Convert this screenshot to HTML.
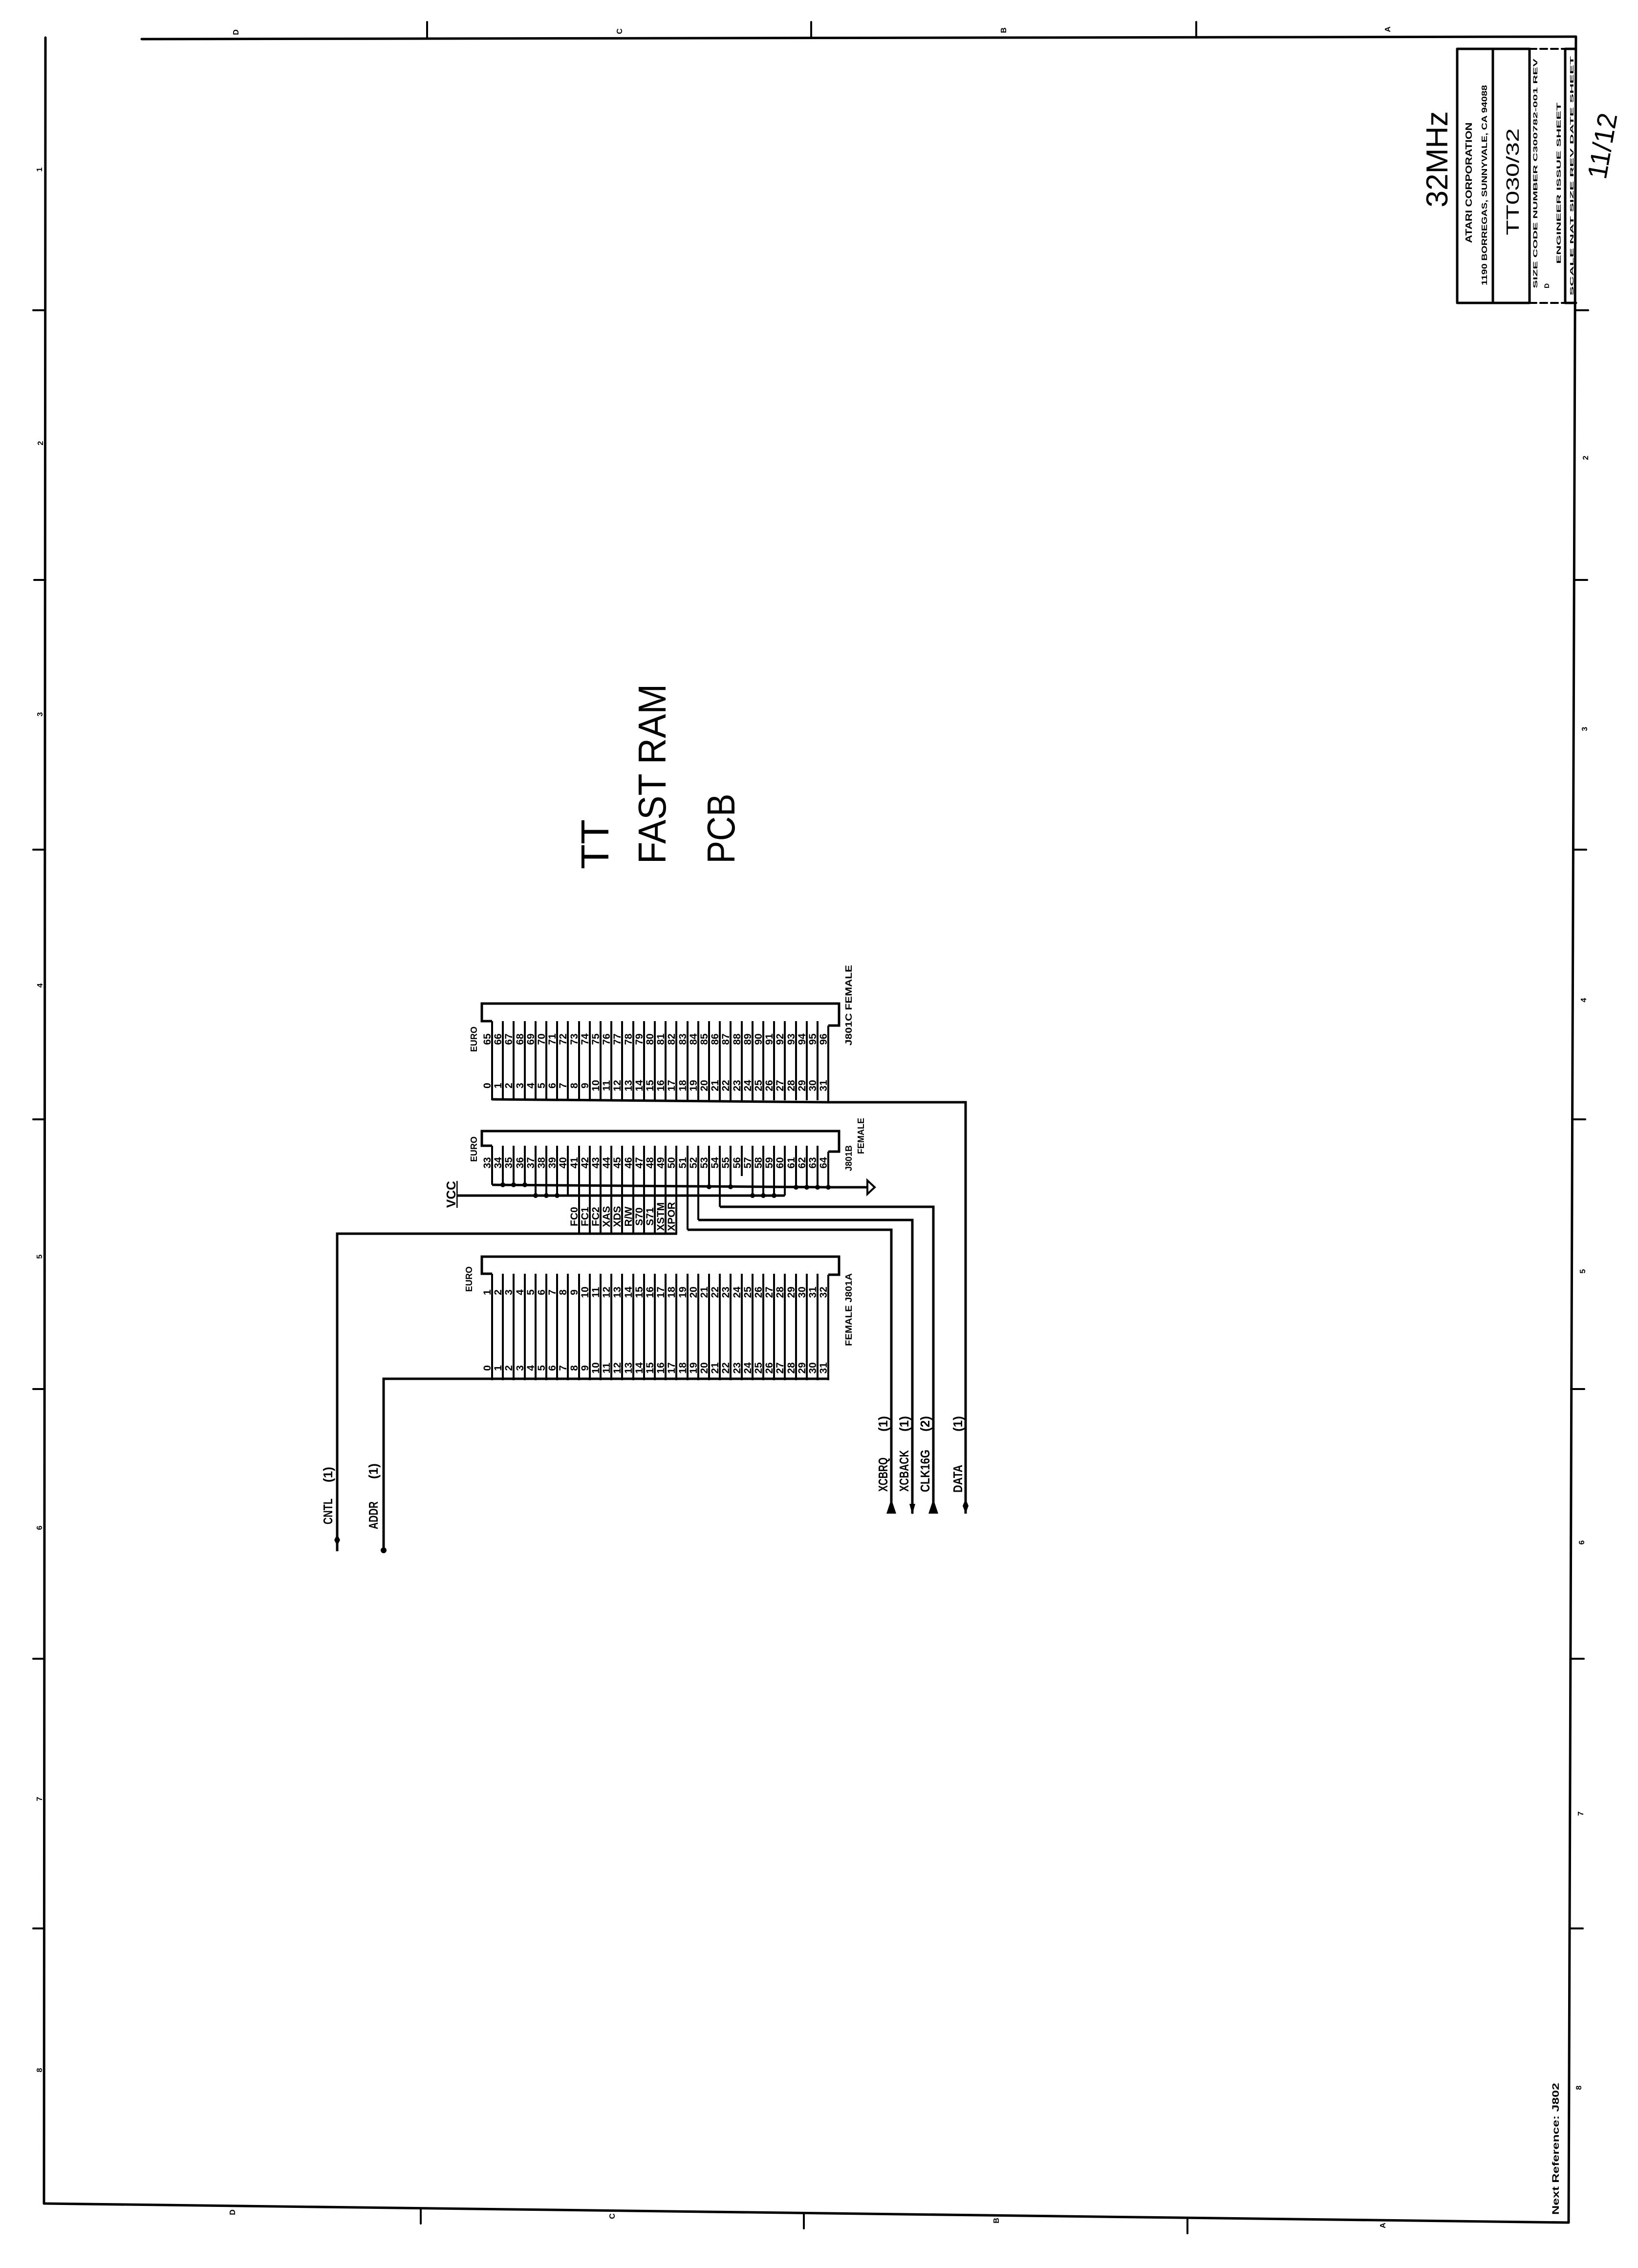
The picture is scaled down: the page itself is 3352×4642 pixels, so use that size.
<!DOCTYPE html>
<html><head><meta charset="utf-8"><style>
html,body{margin:0;padding:0;background:#fff;}
svg{display:block;}
text{font-family:"Liberation Sans",sans-serif;fill:#000;}
</style></head><body>
<svg width="3352" height="4642" viewBox="0 0 3352 4642" xmlns="http://www.w3.org/2000/svg">
<rect width="3352" height="4642" fill="#fff"/>
<g stroke="#000" stroke-width="5" fill="none" stroke-linecap="round">
<!-- border -->
<line x1="93" y1="77" x2="90" y2="4510"/>
<line x1="90" y1="4510" x2="3210" y2="4549"/>
<line x1="3225" y1="75" x2="3210" y2="4549"/>
<line x1="290" y1="80" x2="3225" y2="75"/>
<!-- ticks -->
<path d="M874 79V45 M1660 78V45 M2448 77V45 M861 4521V4551 M1645 4531V4561 M2430 4541V4571 M92 635H68 M93 1187H70 M92 1739H68 M92 2291H68 M91 2843H68 M91 3395H68 M91 3947H68 M3223 635H3250 M3221 1187H3248 M3219 1739H3246 M3217 2291H3244 M3215 2843H3242 M3214 3395H3241 M3212 3947H3239" stroke-width="4"/>
<!-- title block -->
<path d="M2982 100V620 M3055 100V620 M3130 100V620 M3203 100V620 M2982 100H3130 M2982 620H3130 M3203 620H3225 M3203 100H3225" stroke-width="5"/>
<path d="M3130 620H3203 M3130 100H3203" stroke-width="4" stroke-dasharray="14 8"/>
</g>
<!-- zone labels -->
<g font-size="16" font-weight="bold" text-anchor="middle">
<text transform="translate(488 66)rotate(-90)">D</text>
<text transform="translate(1273 64)rotate(-90)">C</text>
<text transform="translate(2059 62)rotate(-90)">B</text>
<text transform="translate(2845 60)rotate(-90)">A</text>
<text transform="translate(481 4528)rotate(-90)">D</text>
<text transform="translate(1258 4536)rotate(-90)">C</text>
<text transform="translate(2044 4545)rotate(-90)">B</text>
<text transform="translate(2835 4555)rotate(-90)">A</text>
<text transform="translate(86 347)rotate(-90)">1</text>
<text transform="translate(88 907)rotate(-90)">2</text>
<text transform="translate(87 1462)rotate(-90)">3</text>
<text transform="translate(87 2017)rotate(-90)">4</text>
<text transform="translate(86 2572)rotate(-90)">5</text>
<text transform="translate(86 3127)rotate(-90)">6</text>
<text transform="translate(86 3682)rotate(-90)">7</text>
<text transform="translate(86 4237)rotate(-90)">8</text>
<text transform="translate(3250 937)rotate(-90)">2</text>
<text transform="translate(3248 1492)rotate(-90)">3</text>
<text transform="translate(3246 2047)rotate(-90)">4</text>
<text transform="translate(3244 2602)rotate(-90)">5</text>
<text transform="translate(3242 3157)rotate(-90)">6</text>
<text transform="translate(3240 3712)rotate(-90)">7</text>
<text transform="translate(3236 4273)rotate(-90)">8</text>
</g>
<!-- title text -->
<text transform="translate(2962 326)rotate(-90)" font-size="62" text-anchor="middle" textLength="197" lengthAdjust="spacingAndGlyphs">32MHz</text>
<text transform="translate(3012 374)rotate(-90)" font-size="18" font-weight="bold" text-anchor="middle" textLength="247" lengthAdjust="spacingAndGlyphs">ATARI CORPORATION</text>
<text transform="translate(3043 379)rotate(-90)" font-size="16" font-weight="bold" text-anchor="middle" textLength="410" lengthAdjust="spacingAndGlyphs">1190 BORREGAS, SUNNYVALE, CA 94088</text>
<text transform="translate(3108 372)rotate(-90)" font-size="36" text-anchor="middle" textLength="219" lengthAdjust="spacingAndGlyphs">TT030/32</text>
<text transform="translate(3146 355)rotate(-90)" font-size="12" font-weight="bold" text-anchor="middle" textLength="470" lengthAdjust="spacingAndGlyphs">SIZE CODE   NUMBER  C300782-001        REV</text>
<text transform="translate(3170 590)rotate(-90)" font-size="14" font-weight="bold">D</text>
<text transform="translate(3194 375)rotate(-90)" font-size="12" font-weight="bold" text-anchor="middle" textLength="330" lengthAdjust="spacingAndGlyphs">ENGINEER   ISSUE  SHEET</text>
<text transform="translate(3220 360)rotate(-90)" font-size="10" font-weight="bold" text-anchor="middle" textLength="490" lengthAdjust="spacingAndGlyphs">SCALE   NAT   SIZE   REV   DATE   SHEET</text>
<text transform="translate(3298 302)rotate(-80)" font-size="56" text-anchor="middle" textLength="136" lengthAdjust="spacingAndGlyphs">11/12</text>
<text transform="translate(3190 4533)rotate(-90)" font-size="19" font-weight="bold" textLength="270" lengthAdjust="spacingAndGlyphs">Next Reference:   J802</text>
<!-- handwriting -->
<g font-size="80" text-anchor="middle">
<text transform="translate(1245 1728)rotate(-90)" textLength="102" lengthAdjust="spacingAndGlyphs">TT</text>
<text transform="translate(1362 1584)rotate(-90)" textLength="368" lengthAdjust="spacingAndGlyphs">FAST RAM</text>
<text transform="translate(1503 1696)rotate(-90)" textLength="143" lengthAdjust="spacingAndGlyphs">PCB</text>
</g>
<!-- connectors -->
<g stroke="#000" stroke-width="5" fill="none">
<path d="M1007 2090H986V2054H1717V2099H1695"/>
<path d="M1007 2345H986V2315H1717V2357H1695"/>
<path d="M1007 2607H986V2572H1717V2609H1695"/>
</g>
<g stroke="#000" stroke-width="4" fill="none">
<path d="M1007 2090V2252M1029 2090V2252M1051 2090V2252M1074 2090V2252M1096 2090V2252M1118 2090V2252M1140 2090V2252M1162 2090V2252M1185 2090V2252M1207 2090V2252M1229 2090V2252M1251 2090V2252M1273 2090V2252M1296 2090V2252M1318 2090V2252M1340 2090V2252M1362 2090V2252M1384 2090V2252M1407 2090V2252M1429 2090V2252M1451 2090V2252M1473 2090V2252M1495 2090V2252M1518 2090V2252M1540 2090V2252M1562 2090V2252M1584 2090V2252M1606 2090V2252M1629 2090V2252M1651 2090V2252M1673 2090V2252M1695 2099V2256"/>
<path d="M1007 2250L1695 2256H1976V3098" stroke-width="5"/>
<path d="M1007 2345V2425M1029 2345V2425M1051 2345V2425M1074 2345V2425M1096 2345V2447M1118 2345V2447M1140 2345V2447M1162 2345V2447M1185 2345V2527M1207 2345V2527M1229 2345V2527M1251 2345V2527M1273 2345V2527M1296 2345V2527M1318 2345V2527M1340 2345V2527M1362 2345V2527M1384 2345V2527M1407 2345V2517M1429 2345V2497M1451 2345V2430M1473 2345V2470M1495 2345V2430M1518 2345V2407M1540 2345V2447M1562 2345V2447M1584 2345V2447M1606 2345V2447M1629 2345V2430M1651 2345V2430M1673 2345V2430M1695 2357V2430"/>
<path d="M1007 2425L1695 2430H1775" stroke-width="5"/>
<path d="M1775 2416L1790 2430L1775 2444Z" stroke-width="4"/>
<path d="M935 2447H1606" stroke-width="5"/>
<path d="M690 3175V2525H1385" stroke-width="5"/>
<path d="M1407 2517H1824V3098M1429 2497H1867V3098M1473 2470H1910V3098" stroke-width="5"/>
<path d="M1007 2607V2825M1029 2607V2825M1051 2607V2825M1074 2607V2825M1096 2607V2825M1118 2607V2825M1140 2607V2825M1162 2607V2825M1185 2607V2825M1207 2607V2825M1229 2607V2825M1251 2607V2825M1273 2607V2825M1296 2607V2825M1318 2607V2825M1340 2607V2825M1362 2607V2825M1384 2607V2825M1407 2607V2825M1429 2607V2825M1451 2607V2825M1473 2607V2825M1495 2607V2825M1518 2607V2825M1540 2607V2825M1562 2607V2825M1584 2607V2825M1606 2607V2825M1629 2607V2825M1651 2607V2825M1673 2607V2825M1695 2609V2825"/>
<path d="M785 3175V2822H1695" stroke-width="5"/>
</g>
<g fill="#000">
<circle cx="1029" cy="2425" r="5"/><circle cx="1051" cy="2425" r="5"/><circle cx="1074" cy="2425" r="5"/>
<circle cx="1451" cy="2429" r="5"/><circle cx="1495" cy="2429" r="5"/>
<circle cx="1629" cy="2430" r="5"/><circle cx="1651" cy="2430" r="5"/><circle cx="1673" cy="2430" r="5"/><circle cx="1695" cy="2430" r="5"/>
<circle cx="1096" cy="2447" r="5"/><circle cx="1118" cy="2447" r="5"/><circle cx="1140" cy="2447" r="5"/>
<circle cx="1540" cy="2447" r="5"/><circle cx="1562" cy="2447" r="5"/><circle cx="1584" cy="2447" r="5"/>
<path d="M1824 3068L1814 3098H1834Z"/>
<path d="M1867 3100L1861 3078H1873Z"/>
<path d="M1910 3068L1900 3098H1920Z"/>
<path d="M1976 3068L1970 3082L1976 3098L1982 3082Z"/>
<path d="M690 3140L684 3152L690 3164L696 3152Z"/>
<circle cx="785" cy="3173" r="6"/>
</g>
<g font-size="18" font-weight="bold">
<text transform="translate(976 2127)rotate(-90)" text-anchor="middle">EURO</text>
<text transform="translate(976 2352)rotate(-90)" text-anchor="middle">EURO</text>
<text transform="translate(966 2618)rotate(-90)" text-anchor="middle">EURO</text>
<text transform="translate(1743 2140)rotate(-90)" textLength="165" lengthAdjust="spacingAndGlyphs">J801C   FEMALE</text>
<text transform="translate(1743 2397)rotate(-90)">J801B</text>
<text transform="translate(1768 2362)rotate(-90)">FEMALE</text>
<text transform="translate(1743 2755)rotate(-90)" textLength="149" lengthAdjust="spacingAndGlyphs">FEMALE   J801A</text>
</g>
<g font-size="26" font-weight="bold">
<text transform="translate(932 2472)rotate(-90)" text-decoration="underline">VCC</text>
<text transform="translate(680 3120)rotate(-90)" textLength="53" lengthAdjust="spacingAndGlyphs">CNTL</text>
<text transform="translate(680 3034)rotate(-90)">(1)</text>
<text transform="translate(773 3130)rotate(-90)" textLength="57" lengthAdjust="spacingAndGlyphs">ADDR</text>
<text transform="translate(773 3027)rotate(-90)">(1)</text>
<text transform="translate(1816 3053)rotate(-90)" textLength="70" lengthAdjust="spacingAndGlyphs">XCBRQ</text>
<text transform="translate(1816 2930)rotate(-90)">(1)</text>
<text transform="translate(1859 3053)rotate(-90)" textLength="85" lengthAdjust="spacingAndGlyphs">XCBACK</text>
<text transform="translate(1859 2930)rotate(-90)">(1)</text>
<text transform="translate(1902 3054)rotate(-90)" textLength="87" lengthAdjust="spacingAndGlyphs">CLK16G</text>
<text transform="translate(1902 2930)rotate(-90)">(2)</text>
<text transform="translate(1969 3055)rotate(-90)" textLength="57" lengthAdjust="spacingAndGlyphs">DATA</text>
<text transform="translate(1969 2930)rotate(-90)">(1)</text>
</g>
<g font-size="21" font-weight="bold" text-anchor="middle">
<text transform="translate(1004 2127)rotate(-90)">65</text><text transform="translate(1026 2127)rotate(-90)">66</text><text transform="translate(1048 2127)rotate(-90)">67</text><text transform="translate(1071 2127)rotate(-90)">68</text><text transform="translate(1093 2127)rotate(-90)">69</text><text transform="translate(1115 2127)rotate(-90)">70</text><text transform="translate(1137 2127)rotate(-90)">71</text><text transform="translate(1159 2127)rotate(-90)">72</text><text transform="translate(1182 2127)rotate(-90)">73</text><text transform="translate(1204 2127)rotate(-90)">74</text><text transform="translate(1226 2127)rotate(-90)">75</text><text transform="translate(1248 2127)rotate(-90)">76</text><text transform="translate(1270 2127)rotate(-90)">77</text><text transform="translate(1293 2127)rotate(-90)">78</text><text transform="translate(1315 2127)rotate(-90)">79</text><text transform="translate(1337 2127)rotate(-90)">80</text><text transform="translate(1359 2127)rotate(-90)">81</text><text transform="translate(1381 2127)rotate(-90)">82</text><text transform="translate(1404 2127)rotate(-90)">83</text><text transform="translate(1426 2127)rotate(-90)">84</text><text transform="translate(1448 2127)rotate(-90)">85</text><text transform="translate(1470 2127)rotate(-90)">86</text><text transform="translate(1492 2127)rotate(-90)">87</text><text transform="translate(1515 2127)rotate(-90)">88</text><text transform="translate(1537 2127)rotate(-90)">89</text><text transform="translate(1559 2127)rotate(-90)">90</text><text transform="translate(1581 2127)rotate(-90)">91</text><text transform="translate(1603 2127)rotate(-90)">92</text><text transform="translate(1626 2127)rotate(-90)">93</text><text transform="translate(1648 2127)rotate(-90)">94</text><text transform="translate(1670 2127)rotate(-90)">95</text><text transform="translate(1692 2127)rotate(-90)">96</text>
<text transform="translate(1004 2222)rotate(-90)">0</text><text transform="translate(1026 2222)rotate(-90)">1</text><text transform="translate(1048 2222)rotate(-90)">2</text><text transform="translate(1071 2222)rotate(-90)">3</text><text transform="translate(1093 2222)rotate(-90)">4</text><text transform="translate(1115 2222)rotate(-90)">5</text><text transform="translate(1137 2222)rotate(-90)">6</text><text transform="translate(1159 2222)rotate(-90)">7</text><text transform="translate(1182 2222)rotate(-90)">8</text><text transform="translate(1204 2222)rotate(-90)">9</text><text transform="translate(1226 2222)rotate(-90)">10</text><text transform="translate(1248 2222)rotate(-90)">11</text><text transform="translate(1270 2222)rotate(-90)">12</text><text transform="translate(1293 2222)rotate(-90)">13</text><text transform="translate(1315 2222)rotate(-90)">14</text><text transform="translate(1337 2222)rotate(-90)">15</text><text transform="translate(1359 2222)rotate(-90)">16</text><text transform="translate(1381 2222)rotate(-90)">17</text><text transform="translate(1404 2222)rotate(-90)">18</text><text transform="translate(1426 2222)rotate(-90)">19</text><text transform="translate(1448 2222)rotate(-90)">20</text><text transform="translate(1470 2222)rotate(-90)">21</text><text transform="translate(1492 2222)rotate(-90)">22</text><text transform="translate(1515 2222)rotate(-90)">23</text><text transform="translate(1537 2222)rotate(-90)">24</text><text transform="translate(1559 2222)rotate(-90)">25</text><text transform="translate(1581 2222)rotate(-90)">26</text><text transform="translate(1603 2222)rotate(-90)">27</text><text transform="translate(1626 2222)rotate(-90)">28</text><text transform="translate(1648 2222)rotate(-90)">29</text><text transform="translate(1670 2222)rotate(-90)">30</text><text transform="translate(1692 2222)rotate(-90)">31</text>
<text transform="translate(1004 2380)rotate(-90)">33</text><text transform="translate(1026 2380)rotate(-90)">34</text><text transform="translate(1048 2380)rotate(-90)">35</text><text transform="translate(1071 2380)rotate(-90)">36</text><text transform="translate(1093 2380)rotate(-90)">37</text><text transform="translate(1115 2380)rotate(-90)">38</text><text transform="translate(1137 2380)rotate(-90)">39</text><text transform="translate(1159 2380)rotate(-90)">40</text><text transform="translate(1182 2380)rotate(-90)">41</text><text transform="translate(1204 2380)rotate(-90)">42</text><text transform="translate(1226 2380)rotate(-90)">43</text><text transform="translate(1248 2380)rotate(-90)">44</text><text transform="translate(1270 2380)rotate(-90)">45</text><text transform="translate(1293 2380)rotate(-90)">46</text><text transform="translate(1315 2380)rotate(-90)">47</text><text transform="translate(1337 2380)rotate(-90)">48</text><text transform="translate(1359 2380)rotate(-90)">49</text><text transform="translate(1381 2380)rotate(-90)">50</text><text transform="translate(1404 2380)rotate(-90)">51</text><text transform="translate(1426 2380)rotate(-90)">52</text><text transform="translate(1448 2380)rotate(-90)">53</text><text transform="translate(1470 2380)rotate(-90)">54</text><text transform="translate(1492 2380)rotate(-90)">55</text><text transform="translate(1515 2380)rotate(-90)">56</text><text transform="translate(1537 2380)rotate(-90)">57</text><text transform="translate(1559 2380)rotate(-90)">58</text><text transform="translate(1581 2380)rotate(-90)">59</text><text transform="translate(1603 2380)rotate(-90)">60</text><text transform="translate(1626 2380)rotate(-90)">61</text><text transform="translate(1648 2380)rotate(-90)">62</text><text transform="translate(1670 2380)rotate(-90)">63</text><text transform="translate(1692 2380)rotate(-90)">64</text>
<text transform="translate(1182 2490)rotate(-90)">FC0</text><text transform="translate(1204 2490)rotate(-90)">FC1</text><text transform="translate(1226 2490)rotate(-90)">FC2</text><text transform="translate(1248 2490)rotate(-90)">XAS</text><text transform="translate(1270 2490)rotate(-90)">XDS</text><text transform="translate(1293 2490)rotate(-90)">R/W</text><text transform="translate(1315 2490)rotate(-90)">S70</text><text transform="translate(1337 2490)rotate(-90)">S71</text><text transform="translate(1359 2490)rotate(-90)">XSTM</text><text transform="translate(1381 2490)rotate(-90)">XPOR</text>
<text transform="translate(1004 2645)rotate(-90)">1</text><text transform="translate(1026 2645)rotate(-90)">2</text><text transform="translate(1048 2645)rotate(-90)">3</text><text transform="translate(1071 2645)rotate(-90)">4</text><text transform="translate(1093 2645)rotate(-90)">5</text><text transform="translate(1115 2645)rotate(-90)">6</text><text transform="translate(1137 2645)rotate(-90)">7</text><text transform="translate(1159 2645)rotate(-90)">8</text><text transform="translate(1182 2645)rotate(-90)">9</text><text transform="translate(1204 2645)rotate(-90)">10</text><text transform="translate(1226 2645)rotate(-90)">11</text><text transform="translate(1248 2645)rotate(-90)">12</text><text transform="translate(1270 2645)rotate(-90)">13</text><text transform="translate(1293 2645)rotate(-90)">14</text><text transform="translate(1315 2645)rotate(-90)">15</text><text transform="translate(1337 2645)rotate(-90)">16</text><text transform="translate(1359 2645)rotate(-90)">17</text><text transform="translate(1381 2645)rotate(-90)">18</text><text transform="translate(1404 2645)rotate(-90)">19</text><text transform="translate(1426 2645)rotate(-90)">20</text><text transform="translate(1448 2645)rotate(-90)">21</text><text transform="translate(1470 2645)rotate(-90)">22</text><text transform="translate(1492 2645)rotate(-90)">23</text><text transform="translate(1515 2645)rotate(-90)">24</text><text transform="translate(1537 2645)rotate(-90)">25</text><text transform="translate(1559 2645)rotate(-90)">26</text><text transform="translate(1581 2645)rotate(-90)">27</text><text transform="translate(1603 2645)rotate(-90)">28</text><text transform="translate(1626 2645)rotate(-90)">29</text><text transform="translate(1648 2645)rotate(-90)">30</text><text transform="translate(1670 2645)rotate(-90)">31</text><text transform="translate(1692 2645)rotate(-90)">32</text>
<text transform="translate(1004 2800)rotate(-90)">0</text><text transform="translate(1026 2800)rotate(-90)">1</text><text transform="translate(1048 2800)rotate(-90)">2</text><text transform="translate(1071 2800)rotate(-90)">3</text><text transform="translate(1093 2800)rotate(-90)">4</text><text transform="translate(1115 2800)rotate(-90)">5</text><text transform="translate(1137 2800)rotate(-90)">6</text><text transform="translate(1159 2800)rotate(-90)">7</text><text transform="translate(1182 2800)rotate(-90)">8</text><text transform="translate(1204 2800)rotate(-90)">9</text><text transform="translate(1226 2800)rotate(-90)">10</text><text transform="translate(1248 2800)rotate(-90)">11</text><text transform="translate(1270 2800)rotate(-90)">12</text><text transform="translate(1293 2800)rotate(-90)">13</text><text transform="translate(1315 2800)rotate(-90)">14</text><text transform="translate(1337 2800)rotate(-90)">15</text><text transform="translate(1359 2800)rotate(-90)">16</text><text transform="translate(1381 2800)rotate(-90)">17</text><text transform="translate(1404 2800)rotate(-90)">18</text><text transform="translate(1426 2800)rotate(-90)">19</text><text transform="translate(1448 2800)rotate(-90)">20</text><text transform="translate(1470 2800)rotate(-90)">21</text><text transform="translate(1492 2800)rotate(-90)">22</text><text transform="translate(1515 2800)rotate(-90)">23</text><text transform="translate(1537 2800)rotate(-90)">24</text><text transform="translate(1559 2800)rotate(-90)">25</text><text transform="translate(1581 2800)rotate(-90)">26</text><text transform="translate(1603 2800)rotate(-90)">27</text><text transform="translate(1626 2800)rotate(-90)">28</text><text transform="translate(1648 2800)rotate(-90)">29</text><text transform="translate(1670 2800)rotate(-90)">30</text><text transform="translate(1692 2800)rotate(-90)">31</text>
</g>
</svg>
</body></html>
